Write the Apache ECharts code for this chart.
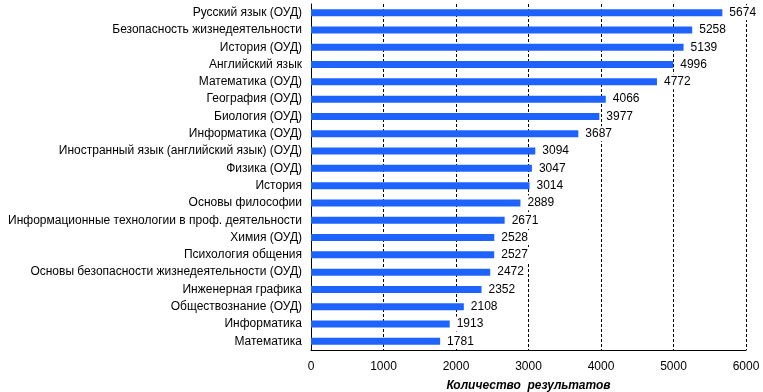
<!DOCTYPE html>
<html><head><meta charset="utf-8">
<script src="https://cdn.jsdelivr.net/npm/echarts@6/dist/echarts.min.js"></script>
<style>html,body{margin:0;padding:0;background:#fff}#c{width:763px;height:392px}</style>
</head><body><div id="c"></div>
<script>
const categories = ["Русский язык (ОУД)","Безопасность жизнедеятельности","История (ОУД)","Английский язык","Математика (ОУД)","География (ОУД)","Биология (ОУД)","Информатика (ОУД)","Иностранный язык (английский язык) (ОУД)","Физика (ОУД)","История","Основы философии","Информационные технологии в проф. деятельности","Химия (ОУД)","Психология общения","Основы безопасности жизнедеятельности (ОУД)","Инженерная графика","Обществознание (ОУД)","Информатика","Математика"];
const values = [5674,5258,5139,4996,4772,4066,3977,3687,3094,3047,3014,2889,2671,2528,2527,2472,2352,2108,1913,1781];
const axisName = "Количество  результатов";
const font = "'Liberation Sans', Arial, sans-serif";
const chart = echarts.init(document.getElementById('c'));
chart.setOption({
  animation:false,
  grid:{left:311,right:17,top:4,bottom:42,containLabel:false,outerBoundsMode:'none'},
  xAxis:{type:'value',min:0,max:6000,interval:1000,
    name:axisName,nameLocation:'middle',nameGap:30,
    nameTextStyle:{fontFamily:font,fontSize:12,fontWeight:'bold',fontStyle:'italic',color:'#000'},
    axisLine:{show:true,lineStyle:{color:'#000',width:1}},
    axisTick:{show:false},
    axisLabel:{fontFamily:font,fontSize:12,color:'#000',margin:11,formatter:v=>String(v)},
    splitLine:{show:true,lineStyle:{color:'#000',type:[3,2],width:1}}},
  yAxis:{type:'category',data:categories,inverse:true,
    axisLine:{show:true,lineStyle:{color:'#000',width:1}},
    axisTick:{show:false},
    axisLabel:{fontFamily:font,fontSize:12,color:'#000',margin:9}},
  series:[{type:'bar',data:values,barWidth:7,itemStyle:{color:'#1F63FF'},z:3,
    label:{show:true,position:'right',distance:5,fontFamily:font,fontSize:12,color:'#000',
      backgroundColor:'#ffffff',padding:[2,2,1,2]}}]
});
</script></body></html>
